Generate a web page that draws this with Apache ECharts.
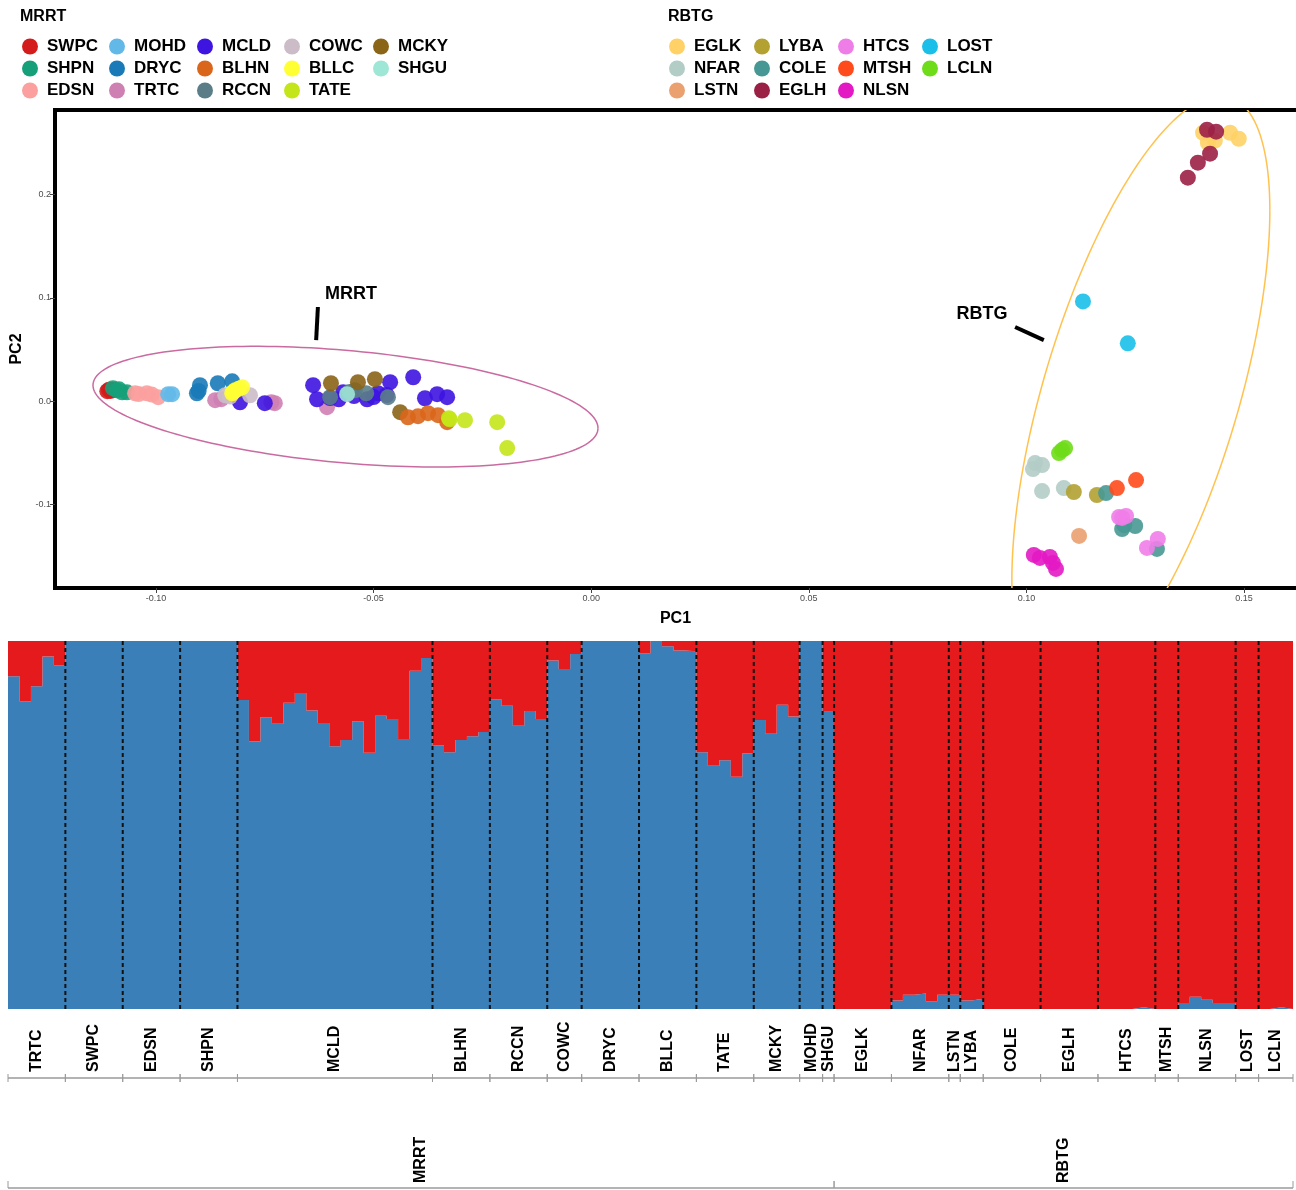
<!DOCTYPE html>
<html><head><meta charset="utf-8">
<script src="https://cdn.jsdelivr.net/npm/echarts@6/dist/echarts.min.js"></script>
<style>html,body{margin:0;padding:0;background:#fff}#c{width:1296px;height:1190px}</style>
</head><body><div id="c"></div>
<script>
const FONT = '"Liberation Sans", Arial, Helvetica, sans-serif';

// ---------- PCA ----------
const popNames  = ['SWPC','SHPN','EDSN','MOHD','DRYC','TRTC','MCLD','BLHN','RCCN','COWC','BLLC','TATE','MCKY','SHGU',
                   'EGLK','NFAR','LSTN','LYBA','COLE','EGLH','HTCS','MTSH','NLSN','LOST','LCLN'];
const popColors = ['#d41c1c','#16a079','#fba09e','#62b9e8','#1a7ab8','#cf80b2','#3d14e0','#d9661a','#5a7d88','#cbbcc8','#ffff33','#c4e51a','#8a6417','#9ee6d6',
                   '#ffd166','#b2ccc6','#eba070','#b3a132','#479894','#9b2046','#ef7de8','#ff4a1c','#e31ac4','#19bfe8','#6fdc1a'];
const drawOrder = ['SWPC','SHPN','EDSN','MOHD','TRTC','DRYC','MCLD','COWC','BLLC','RCCN','MCKY','SHGU','BLHN','TATE',
                   'EGLK','EGLH','NFAR','LSTN','LYBA','COLE','MTSH','HTCS','NLSN','LOST','LCLN'];
const mrrtLegendColumns = [['SWPC','SHPN','EDSN'],['MOHD','DRYC','TRTC'],['MCLD','BLHN','RCCN'],['COWC','BLLC','TATE'],['MCKY','SHGU']];
const rbtgLegendColumns = [['EGLK','NFAR','LSTN'],['LYBA','COLE','EGLH'],['HTCS','MTSH','NLSN'],['LOST','LCLN']];

const pcaPoints = [
 ['SWPC',-0.1106,0.0106],['SWPC',-0.1112,0.0097],['SWPC',-0.1100,0.0110],['SWPC',-0.1104,0.0100],['SWPC',-0.1108,0.0112],
 ['SHPN',-0.1099,0.0126],['SHPN',-0.1090,0.0106],['SHPN',-0.1078,0.0087],['SHPN',-0.1067,0.0087],['SHPN',-0.1085,0.0115],
 ['EDSN',-0.1048,0.0077],['EDSN',-0.1021,0.0077],['EDSN',-0.0995,0.0039],['EDSN',-0.1040,0.0070],['EDSN',-0.1010,0.0065],
 ['MOHD',-0.0972,0.0068],['MOHD',-0.0963,0.0068],
 ['DRYC',-0.0906,0.0077],['DRYC',-0.0899,0.0155],['DRYC',-0.0858,0.0174],['DRYC',-0.0825,0.0193],['DRYC',-0.0902,0.0100],
 ['TRTC',-0.0864,0.0010],['TRTC',-0.0727,-0.0019],['TRTC',-0.0607,-0.0058],['TRTC',-0.0850,0.0020],['TRTC',-0.0735,-0.0010],
 ['COWC',-0.0841,0.0058],['COWC',-0.0784,0.0058],['COWC',-0.0830,0.0045],
 ['BLLC',-0.0825,0.0077],['BLLC',-0.0802,0.0135],['BLLC',-0.0818,0.0106],['BLLC',-0.0822,0.0090],['BLLC',-0.0810,0.0120],
 ['MCLD',-0.0807,-0.0010],['MCLD',-0.0750,-0.0019],['MCLD',-0.0639,0.0155],['MCLD',-0.0630,0.0019],['MCLD',-0.0580,0.0019],
 ['MCLD',-0.0570,0.0087],['MCLD',-0.0515,0.0019],['MCLD',-0.0490,0.0077],['MCLD',-0.0462,0.0184],['MCLD',-0.0409,0.0232],
 ['MCLD',-0.0382,0.0029],['MCLD',-0.0354,0.0068],['MCLD',-0.0331,0.0039],['MCLD',-0.0545,0.0050],['MCLD',-0.0500,0.0040],
 ['MCLD',-0.0470,0.0060],['MCLD',-0.0600,0.0030],
 ['MCKY',-0.0598,0.0174],['MCKY',-0.0536,0.0184],['MCKY',-0.0497,0.0213],['MCKY',-0.0439,-0.0106],
 ['RCCN',-0.0600,0.0039],['RCCN',-0.0543,0.0106],['RCCN',-0.0517,0.0077],['RCCN',-0.0467,0.0039],['RCCN',-0.0555,0.0090],
 ['SHGU',-0.0561,0.0068],
 ['BLHN',-0.0421,-0.0155],['BLHN',-0.0398,-0.0145],['BLHN',-0.0375,-0.0116],['BLHN',-0.0352,-0.0135],['BLHN',-0.0331,-0.0203],
 ['TATE',-0.0327,-0.0164],['TATE',-0.0290,-0.0184],['TATE',-0.0216,-0.0203],['TATE',-0.0193,-0.0454],['TATE',-0.0325,-0.0175],
 ['EGLK',0.1406,0.2599],['EGLK',0.1417,0.2502],['EGLK',0.1433,0.2522],['EGLK',0.1468,0.2599],['EGLK',0.1488,0.2541],
 ['NFAR',0.1020,-0.0599],['NFAR',0.1036,-0.0618],['NFAR',0.1015,-0.0657],['NFAR',0.1036,-0.0870],['NFAR',0.1086,-0.0841],
 ['LSTN',0.1121,-0.1304],
 ['LYBA',0.1109,-0.0879],['LYBA',0.1162,-0.0908],
 ['COLE',0.1183,-0.0889],['COLE',0.1220,-0.1237],['COLE',0.1250,-0.1208],['COLE',0.1300,-0.1430],['COLE',0.1225,-0.1200],
 ['EGLH',0.1415,0.2628],['EGLH',0.1436,0.2609],['EGLH',0.1422,0.2396],['EGLH',0.1394,0.2309],['EGLH',0.1371,0.2164],
 ['HTCS',0.1213,-0.1121],['HTCS',0.1229,-0.1111],['HTCS',0.1277,-0.1420],['HTCS',0.1302,-0.1333],['HTCS',0.1220,-0.1130],
 ['MTSH',0.1208,-0.0841],['MTSH',0.1252,-0.0763],
 ['NLSN',0.1017,-0.1488],['NLSN',0.1031,-0.1517],['NLSN',0.1054,-0.1507],['NLSN',0.1061,-0.1565],['NLSN',0.1068,-0.1623],
 ['LOST',0.1130,0.0966],['LOST',0.1233,0.0560],
 ['LCLN',0.1082,-0.0473],['LCLN',0.1089,-0.0454],['LCLN',0.1075,-0.0502]
];
const xTicks = [-0.10,-0.05,0.00,0.05,0.10,0.15];
const yTicks = [-0.1,0.0,0.1,0.2];
// ellipses: centre, conjugate semi-axis vectors (data units)
const ellipseParams = [
  [-0.05646,-0.0053, 0.05802,-0.02077, 0, -0.0546],
  [ 0.1263, 0.0058, 0.02964, 0.1787, 0, -0.228]
];
const ellipseColors = ['#c96ba0','#ffc24f'];
// annotations: label x,y ; line x1,y1,x2,y2
const annotNames = ['MRRT','RBTG'];
const annotPos = [
  [-0.0552,0.1038,-0.0628,0.0912,-0.0632,0.0592],
  [ 0.0898,0.0844, 0.0974,0.0718, 0.1040,0.0592]
];

// ---------- STRUCTURE (K=2): proportion of the blue cluster; red fills the rest ----------
const groupNames = ['TRTC','SWPC','EDSN','SHPN','MCLD','BLHN','RCCN','COWC','DRYC','BLLC','TATE','MCKY','MOHD','SHGU',
                    'EGLK','NFAR','LSTN','LYBA','COLE','EGLH','HTCS','MTSH','NLSN','LOST','LCLN'];
const groupSizes = [5,5,5,5,17,5,5,3,5,5,5,4,2,1, 5,5,1,2,5,5,5,2,5,2,3];
const lineageNames = ['MRRT','RBTG'];
const lineageSizes = [72,40];
const ancestryBlue = [
 0.904,0.836,0.877,0.958,0.934,           // TRTC
 1,1,1,1,1,                               // SWPC
 1,1,1,1,1,                               // EDSN
 1,1,1,1,1,                               // SHPN
 0.840,0.727,0.793,0.775,0.832,0.859,0.811,0.777,0.714,0.731,0.782,0.696,0.797,0.788,0.734,0.919,0.954, // MCLD
 0.717,0.698,0.731,0.741,0.753,           // BLHN
 0.842,0.824,0.770,0.810,0.788,           // RCCN
 0.947,0.924,0.965,                       // COWC
 1,1,1,1,1,                               // DRYC
 0.967,1.0,0.986,0.974,0.972,             // BLLC
 0.698,0.661,0.676,0.631,0.694,           // TATE
 0.785,0.748,0.827,0.795,                 // MCKY
 1,1,                                     // MOHD
 0.808,                                   // SHGU
 0,0,0,0,0,                               // EGLK
 0.023,0.039,0.042,0.021,0.039,           // NFAR
 0.039,                                   // LSTN
 0.023,0.028,                             // LYBA
 0,0,0,0,0,                               // COLE
 0,0,0,0,0,                               // EGLH
 0,0,0,0.005,0,                           // HTCS
 0,0,                                     // MTSH
 0.016,0.033,0.025,0.016,0.016,           // NLSN
 0,0,                                     // LOST
 0,0.005,0                                // LCLN
];
const nInd = ancestryBlue.length;

// ---------- build ----------
function spans(sizes){ let s=0; return sizes.map(n => { const r=[s, s+n]; s+=n; return r; }); }
const groupSpans = spans(groupSizes);
const lineageSpans = spans(lineageSizes);
// individual i occupies [i, i+1] on the value axis; step:'end' holds its value across the slot
const boundary = ancestryBlue.map((v, i) => [i, v]).concat([[nInd, ancestryBlue[nInd - 1]]]);

const chart = echarts.init(document.getElementById('c'), null, {renderer:'canvas'});

const scatterSeries = drawOrder.map(p => ({
  type:'scatter', name:p, xAxisIndex:0, yAxisIndex:0,
  symbolSize:16,
  itemStyle:{color: popColors[popNames.indexOf(p)], opacity:0.9},
  data: pcaPoints.filter(d => d[0] === p).map(d => [d[1], d[2]]),
  z:3
}));

function makeLegend(cols, lefts){
  return cols.map((c, i) => ({
    orient:'vertical', left:lefts[i], top:38, padding:0, itemGap:5,
    itemWidth:24, itemHeight:16, icon:'circle', data:c, selectedMode:false,
    itemStyle:{opacity:1},
    textStyle:{fontFamily:FONT, fontSize:17, fontWeight:'bold', color:'#000'}
  }));
}
const frameLine = {show:true, onZero:false, lineStyle:{color:'#000', width:4, cap:'square'}};

const option = {
  backgroundColor:'#fff',
  animation:false,
  textStyle:{fontFamily:FONT},
  graphic:[
    {type:'text', left:20, top:9, style:{text:'MRRT', font:'bold 16px '+FONT, fill:'#000'}},
    {type:'text', left:668, top:9, style:{text:'RBTG', font:'bold 16px '+FONT, fill:'#000'}}
  ],
  legend: makeLegend(mrrtLegendColumns, [22,109,197,284,373]).concat(makeLegend(rbtgLegendColumns, [669,754,838,922])),
  grid:[
    {left:55, top:110, width:1241, height:478},
    {left:8, top:641, width:1285, height:368}
  ],
  xAxis:[
    {type:'value', gridIndex:0, min:-0.12321, max:0.16195,
     axisLine:frameLine, splitLine:{show:false},
     axisTick:{show:true, customValues:xTicks, length:5, lineStyle:{color:'#444'}},
     axisLabel:{customValues:xTicks, formatter:v => v.toFixed(2), fontSize:9, color:'#4d4d4d', margin:6, fontFamily:FONT},
     name:'PC1', nameLocation:'middle', nameGap:23,
     nameTextStyle:{fontSize:16, fontWeight:'bold', color:'#000', fontFamily:FONT}},
    {type:'value', gridIndex:1, min:0, max:nInd, show:false},
    {type:'value', gridIndex:0, position:'top', min:-0.12321, max:0.16195,
     axisLine:frameLine, axisTick:{show:false}, axisLabel:{show:false}, splitLine:{show:false}}
  ],
  yAxis:[
    {type:'value', gridIndex:0, min:-0.1808, max:0.2819,
     axisLine:frameLine, splitLine:{show:false},
     axisTick:{show:true, customValues:yTicks, length:5, lineStyle:{color:'#444'}},
     axisLabel:{customValues:yTicks, formatter:v => v.toFixed(1), fontSize:9, color:'#4d4d4d', margin:4, fontFamily:FONT},
     name:'PC2', nameLocation:'middle', nameGap:28, nameRotate:90,
     nameTextStyle:{fontSize:16, fontWeight:'bold', color:'#000', fontFamily:FONT}},
    {type:'value', gridIndex:1, min:0, max:1, show:false}
  ],
  series:[
    {type:'custom', name:'ellipses', xAxisIndex:0, yAxisIndex:0, clip:true, silent:true, z:2,
     data: ellipseParams,
     renderItem:(params, api) => {
       const e = ellipseParams[params.dataIndex];
       const pts = [];
       for (let k = 0; k <= 180; k++){
         const t = k/180*Math.PI*2;
         pts.push(api.coord([e[0] + e[2]*Math.cos(t) + e[4]*Math.sin(t), e[1] + e[3]*Math.cos(t) + e[5]*Math.sin(t)]));
       }
       return {type:'polyline', shape:{points:pts}, style:{stroke:ellipseColors[params.dataIndex], lineWidth:1.5, fill:null}};
     }},
    {type:'custom', name:'annot', xAxisIndex:0, yAxisIndex:0, silent:true, z:4,
     data: annotPos,
     renderItem:(params, api) => {
       const a = annotPos[params.dataIndex];
       const t = api.coord([a[0], a[1]]), p1 = api.coord([a[2], a[3]]), p2 = api.coord([a[4], a[5]]);
       return {type:'group', children:[
         {type:'text', x:t[0], y:t[1], style:{text:annotNames[params.dataIndex], font:'bold 18px '+FONT, fill:'#000', align:'center', verticalAlign:'middle'}},
         {type:'line', shape:{x1:p1[0], y1:p1[1], x2:p2[0], y2:p2[1]}, style:{stroke:'#000', lineWidth:4}}
       ]};
     }},
    ...scatterSeries,
    {type:'line', name:'K1', xAxisIndex:1, yAxisIndex:1, step:'end', data:boundary,
     symbol:'none', lineStyle:{width:0}, areaStyle:{color:'#3a7fb8', opacity:1, origin:'start'}, silent:true, z:2},
    {type:'line', name:'K2', xAxisIndex:1, yAxisIndex:1, step:'end', data:boundary,
     symbol:'none', lineStyle:{width:0}, areaStyle:{color:'#e41a1c', opacity:1, origin:'end'}, silent:true, z:2},
    {type:'custom', name:'groups', xAxisIndex:1, yAxisIndex:1, silent:true, z:5,
     data: groupSpans,
     renderItem:(params, api) => {
       const sp = groupSpans[params.dataIndex];
       const top = api.coord([sp[0], 1]), bot = api.coord([sp[0], 0]);
       const ex = api.coord([sp[1], 0])[0];
       const by = bot[1];
       const ch = [];
       if (sp[0] > 0) ch.push({type:'line', shape:{x1:top[0], y1:top[1], x2:top[0], y2:by}, style:{stroke:'#111', lineWidth:2, lineDash:[4,3]}});
       ch.push({type:'text', x:(top[0]+ex)/2, y:by+63, rotation:Math.PI/2,
                style:{text:groupNames[params.dataIndex], font:'bold 16px '+FONT, fill:'#000', align:'left', verticalAlign:'middle'}});
       ch.push({type:'line', shape:{x1:top[0], y1:by+69, x2:ex, y2:by+69}, style:{stroke:'#9a9a9a', lineWidth:1.5}});
       ch.push({type:'line', shape:{x1:top[0], y1:by+65, x2:top[0], y2:by+73}, style:{stroke:'#9a9a9a', lineWidth:1}});
       ch.push({type:'line', shape:{x1:ex, y1:by+65, x2:ex, y2:by+73}, style:{stroke:'#9a9a9a', lineWidth:1}});
       return {type:'group', children:ch};
     }},
    {type:'custom', name:'lineages', xAxisIndex:1, yAxisIndex:1, silent:true, z:5,
     data: lineageSpans,
     renderItem:(params, api) => {
       const sp = lineageSpans[params.dataIndex];
       const a = api.coord([sp[0], 0]), ex = api.coord([sp[1], 0])[0];
       const by = a[1];
       return {type:'group', children:[
         {type:'text', x:(a[0]+ex)/2, y:by+174, rotation:Math.PI/2,
          style:{text:lineageNames[params.dataIndex], font:'bold 16px '+FONT, fill:'#000', align:'left', verticalAlign:'middle'}},
         {type:'line', shape:{x1:a[0], y1:by+179, x2:ex, y2:by+179}, style:{stroke:'#9a9a9a', lineWidth:1.5}},
         {type:'line', shape:{x1:a[0], y1:by+172, x2:a[0], y2:by+179}, style:{stroke:'#9a9a9a', lineWidth:1}},
         {type:'line', shape:{x1:ex, y1:by+172, x2:ex, y2:by+179}, style:{stroke:'#9a9a9a', lineWidth:1}}
       ]};
     }}
  ]
};
chart.setOption(option);
</script>
</body></html>
